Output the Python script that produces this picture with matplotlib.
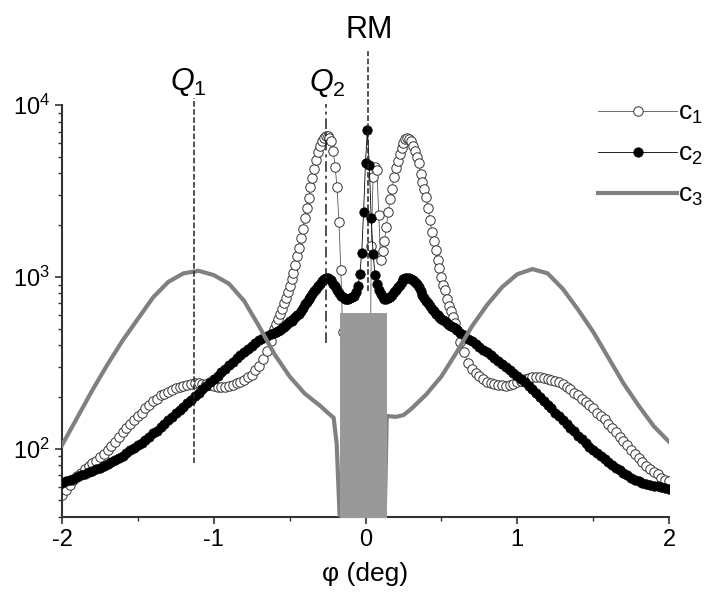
import numpy as np
import matplotlib
matplotlib.use('Agg')
import matplotlib.pyplot as plt
from matplotlib.ticker import LogLocator, NullFormatter, MultipleLocator

plt.rcParams['font.family'] = ['Liberation Sans', 'DejaVu Sans']
plt.rcParams['mathtext.fontset'] = 'custom'
plt.rcParams['mathtext.rm'] = 'Liberation Sans'
plt.rcParams['mathtext.it'] = 'Liberation Sans:italic'
plt.rcParams['axes.unicode_minus'] = False

# angle grid: coarse on the wings, finer near the centre
phi_left = np.arange(56) * 0.025 - 2.0
phi_mid = np.arange(96) * 0.0125 - 0.6
phi_right = np.arange(57) * 0.025 + 0.6

# log10 of the intensities
c1_left = [1.73, 1.76, 1.79, 1.815, 1.84, 1.86, 1.88, 1.90, 1.915, 1.93,
           1.95, 1.97, 1.99, 2.015, 2.04, 2.07, 2.095, 2.12, 2.145, 2.165,
           2.19, 2.21, 2.235, 2.255, 2.275, 2.29, 2.31, 2.32, 2.33, 2.34,
           2.35, 2.36, 2.365, 2.37, 2.375, 2.38, 2.38, 2.375, 2.375, 2.37,
           2.365, 2.36, 2.36, 2.36, 2.365, 2.37, 2.38, 2.39, 2.40, 2.415,
           2.43, 2.455, 2.48, 2.52, 2.57, 2.625]
c1_mid = [2.695, 2.725, 2.755, 2.785, 2.815, 2.845, 2.875, 2.91, 2.945, 2.985,
          3.025, 3.07, 3.12, 3.17, 3.225, 3.28, 3.34, 3.40, 3.46, 3.52,
          3.575, 3.63, 3.68, 3.725, 3.76, 3.79, 3.81, 3.82, 3.82, 3.81,
          3.79, 3.73, 3.64, 3.52, 3.32, 3.04, 2.68, 2.30, 1.90, 1.55,
          1.5, 1.5, 1.5, 1.5, 1.5, 1.5, 1.5, 1.5, 1.5, 1.5,
          1.5, 3.18, 3.58, 3.64, 3.62, 3.36, 3.10, 3.15, 3.21, 3.29,
          3.38, 3.45, 3.51, 3.58, 3.635, 3.675, 3.715, 3.75, 3.78, 3.80,
          3.806, 3.805, 3.79, 3.76, 3.73, 3.70, 3.66, 3.60, 3.55, 3.51,
          3.465, 3.40, 3.33, 3.26, 3.21, 3.155, 3.10, 3.05, 3.00, 2.955,
          2.925, 2.87, 2.83, 2.80, 2.765, 2.73]
c1_right = [2.69, 2.62, 2.56, 2.50, 2.465, 2.44, 2.42, 2.405, 2.39, 2.38,
            2.375, 2.37, 2.368, 2.366, 2.37, 2.375, 2.385, 2.395, 2.405, 2.412,
            2.415, 2.415, 2.415, 2.412, 2.408, 2.40, 2.395, 2.388, 2.375, 2.36,
            2.345, 2.325, 2.31, 2.29, 2.27, 2.255, 2.235, 2.21, 2.19, 2.17,
            2.145, 2.12, 2.095, 2.07, 2.045, 2.02, 1.99, 1.97, 1.945, 1.92,
            1.90, 1.88, 1.865, 1.85, 1.83, 1.82, 1.81]

c2_left = [1.80, 1.81, 1.815, 1.825, 1.835, 1.845, 1.855, 1.865, 1.87, 1.88,
           1.89, 1.90, 1.91, 1.92, 1.935, 1.945, 1.96, 1.975, 1.99, 2.005,
           2.02, 2.035, 2.05, 2.07, 2.09, 2.105, 2.125, 2.145, 2.165, 2.185,
           2.205, 2.225, 2.245, 2.265, 2.285, 2.305, 2.325, 2.345, 2.365, 2.385,
           2.405, 2.425, 2.445, 2.465, 2.485, 2.505, 2.525, 2.545, 2.56, 2.58,
           2.60, 2.615, 2.63, 2.645, 2.655, 2.665]
c2_mid = [2.675, 2.68, 2.685, 2.69, 2.70, 2.71, 2.72, 2.73, 2.74, 2.745,
          2.755, 2.765, 2.775, 2.785, 2.80, 2.82, 2.84, 2.855, 2.87, 2.885,
          2.90, 2.915, 2.93, 2.945, 2.96, 2.975, 2.985, 2.993, 2.996, 2.99,
          2.98, 2.96, 2.945, 2.925, 2.905, 2.89, 2.88, 2.872, 2.87, 2.87,
          2.875, 2.88, 2.89, 2.91, 2.945, 3.015, 3.14, 3.38, 3.665, 3.855,
          3.65, 3.34, 3.135, 3.01, 2.96, 2.925, 2.90, 2.88, 2.87, 2.87,
          2.875, 2.885, 2.895, 2.91, 2.925, 2.94, 2.955, 2.97, 2.985, 2.993,
          2.996, 2.995, 2.99, 2.98, 2.97, 2.96, 2.94, 2.915, 2.895, 2.875,
          2.86, 2.845, 2.83, 2.815, 2.80, 2.785, 2.775, 2.765, 2.755, 2.75,
          2.74, 2.73, 2.72, 2.715, 2.71, 2.70]
c2_right = [2.69, 2.675, 2.66, 2.64, 2.625, 2.61, 2.59, 2.575, 2.56, 2.545,
            2.525, 2.51, 2.495, 2.475, 2.46, 2.44, 2.425, 2.405, 2.385, 2.365,
            2.345, 2.325, 2.30, 2.28, 2.255, 2.235, 2.21, 2.19, 2.165, 2.145,
            2.12, 2.10, 2.075, 2.055, 2.035, 2.01, 1.99, 1.975, 1.955, 1.94,
            1.92, 1.905, 1.89, 1.875, 1.86, 1.845, 1.83, 1.82, 1.81, 1.80,
            1.795, 1.79, 1.785, 1.78, 1.775, 1.77, 1.765]

c3_phi = [-2.0, -1.9, -1.8, -1.7, -1.6, -1.5, -1.4, -1.3, -1.2, -1.1,
          -1.0, -0.9, -0.8, -0.7, -0.6, -0.5, -0.4, -0.3, -0.25, -0.21,
          -0.19, -0.17, -0.15, 0.12, 0.14, 0.2, 0.25, 0.3, 0.4, 0.5,
          0.6, 0.7, 0.8, 0.9, 1.0, 1.1, 1.2, 1.3, 1.4, 1.5,
          1.6, 1.7, 1.8, 1.9, 2.0]
c3_log = [2.02, 2.18, 2.34, 2.49, 2.63, 2.755, 2.88, 2.97, 3.02, 3.035,
          3.01, 2.96, 2.86, 2.71, 2.55, 2.42, 2.32, 2.25, 2.21, 2.18,
          2.03, 1.6, 1.3, 1.3, 2.19, 2.185, 2.195, 2.23, 2.315, 2.42,
          2.56, 2.71, 2.835, 2.94, 3.015, 3.045, 3.02, 2.93, 2.81, 2.68,
          2.53, 2.38, 2.25, 2.13, 2.04]

# blocked angular range (grey box)
gap_lo, gap_hi, gap_top = -0.168, 0.142, 617

# marker lines: position, bottom, top, label, label x, label y, style
marks = [(-1.13, 82, 11000, '$Q_1$', -1.165, 10**4.09, '--'),
         (-0.26, 413, 10150, '$Q_2$', -0.255, 10**4.08, (0, (7, 2.5, 2, 2.5))),
         (0.016, 830, 20600, 'RM', 0.025, 10**4.39, '--')]

phi = np.concatenate([phi_left, phi_mid, phi_right])
c1 = np.concatenate([c1_left, c1_mid, c1_right])
c2 = np.concatenate([c2_left, c2_mid, c2_right])
assert len(phi) == len(c1) == len(c2), (len(phi), len(c1), len(c2))
assert len(c3_phi) == len(c3_log)

fig = plt.figure(figsize=(7.12, 5.99), dpi=100)
ax = fig.add_axes([62 / 712, 1 - 517 / 599, 607 / 712, 412 / 599])

ax.plot(phi, 10 ** c1, '-', color='#555555', lw=0.6, marker='o', ms=6.8,
        mfc='white', mec='#333333', mew=0.7, label='c$_1$', zorder=2)
ax.plot(phi, 10 ** c2, '-', color='black', lw=0.6, marker='o', ms=6.8,
        mfc='black', mec='black', mew=0.5, label='c$_2$', zorder=3)
ax.plot(c3_phi, 10 ** np.array(c3_log), color='#808080', lw=3,
        label='c$_3$', zorder=4)
ax.fill_between([gap_lo, gap_hi], 1, gap_top, color='#999999', lw=0, zorder=6)

for x, lo, hi, txt, tx, ty, ls in marks:
    ax.plot([x, x], [lo, hi], color='#222222', lw=1.1, linestyle=ls,
            clip_on=False, zorder=7)
    ax.text(tx, ty, txt, fontsize=22, ha='center', va='baseline')

ax.set_xlim(-2, 2)
ax.set_ylim(40, 1e4)
ax.set_yscale('log')
ax.yaxis.set_major_locator(LogLocator(base=10))
ax.yaxis.set_minor_locator(LogLocator(base=10, subs=np.arange(2, 10)))
ax.yaxis.set_minor_formatter(NullFormatter())
ax.xaxis.set_major_locator(MultipleLocator(1))
ax.xaxis.set_minor_locator(MultipleLocator(0.5))

for s in ['top', 'right']:
    ax.spines[s].set_visible(False)
for s in ['left', 'bottom']:
    ax.spines[s].set_color('#333333')
    ax.spines[s].set_linewidth(1.5)
ax.tick_params(which='major', length=5, width=1.2, color='#333333', labelsize=17)
ax.tick_params(which='minor', length=3, width=1.0, color='#333333')

ax.set_xlabel('φ (deg)', fontsize=19, labelpad=8)

ax.legend(loc='upper left', bbox_to_anchor=(598 / 712, 1 - 101 / 599),
          bbox_transform=fig.transFigure, frameon=False, fontsize=19,
          handlelength=3.0, handletextpad=0.05, labelspacing=0.6,
          borderpad=0, borderaxespad=0)

fig.savefig('out.png', dpi=100)
